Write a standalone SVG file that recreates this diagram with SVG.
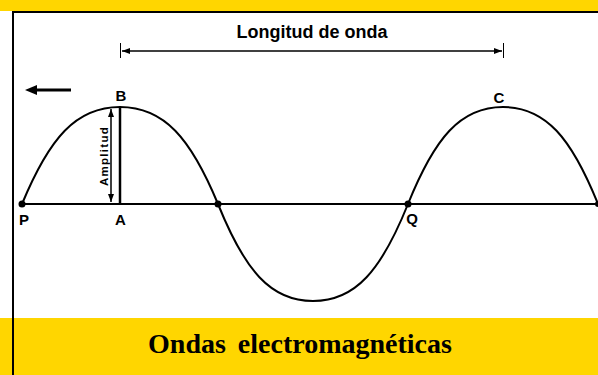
<svg xmlns="http://www.w3.org/2000/svg" width="598" height="375" viewBox="0 0 598 375">
<style>
.lbl{font-family:"Liberation Sans",Arial,sans-serif;font-weight:bold;font-size:15px;fill:#000;text-anchor:middle}
.wave{fill:none;stroke:#000;stroke-width:2}
.dot{fill:#000}
</style>
<defs>
<marker id="ah" viewBox="0 0 8 6" refX="8" refY="3" markerWidth="8" markerHeight="6" markerUnits="userSpaceOnUse" orient="auto-start-reverse">
<path d="M0,0 L8,3 L0,6 Z" fill="#000"/>
</marker>
</defs>
<rect x="0" y="0" width="598" height="375" fill="#fff"/>
<g id="frame">
<rect x="0" y="0" width="598" height="11" fill="#FFD600"/>
<rect x="0" y="318" width="598" height="57" fill="#FFD600"/>
<line x1="12" y1="12" x2="598" y2="12" stroke="#000" stroke-width="2"/>
<line x1="13" y1="11" x2="13" y2="375" stroke="#000" stroke-width="2"/>
</g>
<g id="title">
<text x="300" y="353" font-family="'Liberation Serif','Times New Roman',serif" font-weight="bold" font-size="28" text-anchor="middle" word-spacing="5">Ondas electromagnéticas</text>
</g>
<g id="connectors">
<line x1="22" y1="204" x2="598" y2="204" stroke="#000" stroke-width="2"/>
<path class="wave" d="M22,204 C49.4,138 75.9,107 120,107 C164.1,107 190.6,138 218,204 C244.6,270 270.25,301 313,301 C355.75,301 381.4,270 408,204 C434.6,138 460.25,107 503,107 C545.75,107 571.4,138 598,204"/>
<line x1="120" y1="107" x2="120" y2="204" stroke="#000" stroke-width="2.5"/>
<line x1="111" y1="109" x2="111" y2="202" stroke="#000" stroke-width="1.5" marker-start="url(#ah)" marker-end="url(#ah)"/>
<line x1="122" y1="51" x2="502" y2="51" stroke="#000" stroke-width="1.5" marker-start="url(#ah)" marker-end="url(#ah)"/>
<line x1="120.5" y1="43" x2="120.5" y2="58" stroke="#000" stroke-width="1"/>
<line x1="503.5" y1="43" x2="503.5" y2="58" stroke="#000" stroke-width="1"/>
<line x1="35" y1="90" x2="71" y2="90" stroke="#000" stroke-width="3"/>
<path d="M25,90 L37,85 L37,95 Z" fill="#000"/>
</g>
<g id="wavelength-label">
<text x="312" y="38" class="lbl" style="font-size:18px">Longitud de onda</text>
</g>
<g id="amplitude-label">
<text transform="translate(108,156) rotate(-90)" x="0" y="0" font-family="'Liberation Sans',Arial,sans-serif" font-weight="bold" font-size="11.5" letter-spacing="1.3" text-anchor="middle">Amplitud</text>
</g>
<g id="P"><circle class="dot" cx="22" cy="204" r="3.5"/><text class="lbl" x="24" y="225">P</text></g>
<g id="node-mid"><circle class="dot" cx="218" cy="204" r="3.5"/></g>
<g id="Q"><circle class="dot" cx="408" cy="204" r="3.5"/><text class="lbl" x="412" y="224">Q</text></g>
<g id="end"><circle class="dot" cx="598" cy="204" r="3"/></g>
<g id="A"><text class="lbl" x="120.5" y="225">A</text></g>
<g id="B"><text class="lbl" x="121" y="101">B</text></g>
<g id="C"><text class="lbl" x="499" y="103">C</text></g>
</svg>
